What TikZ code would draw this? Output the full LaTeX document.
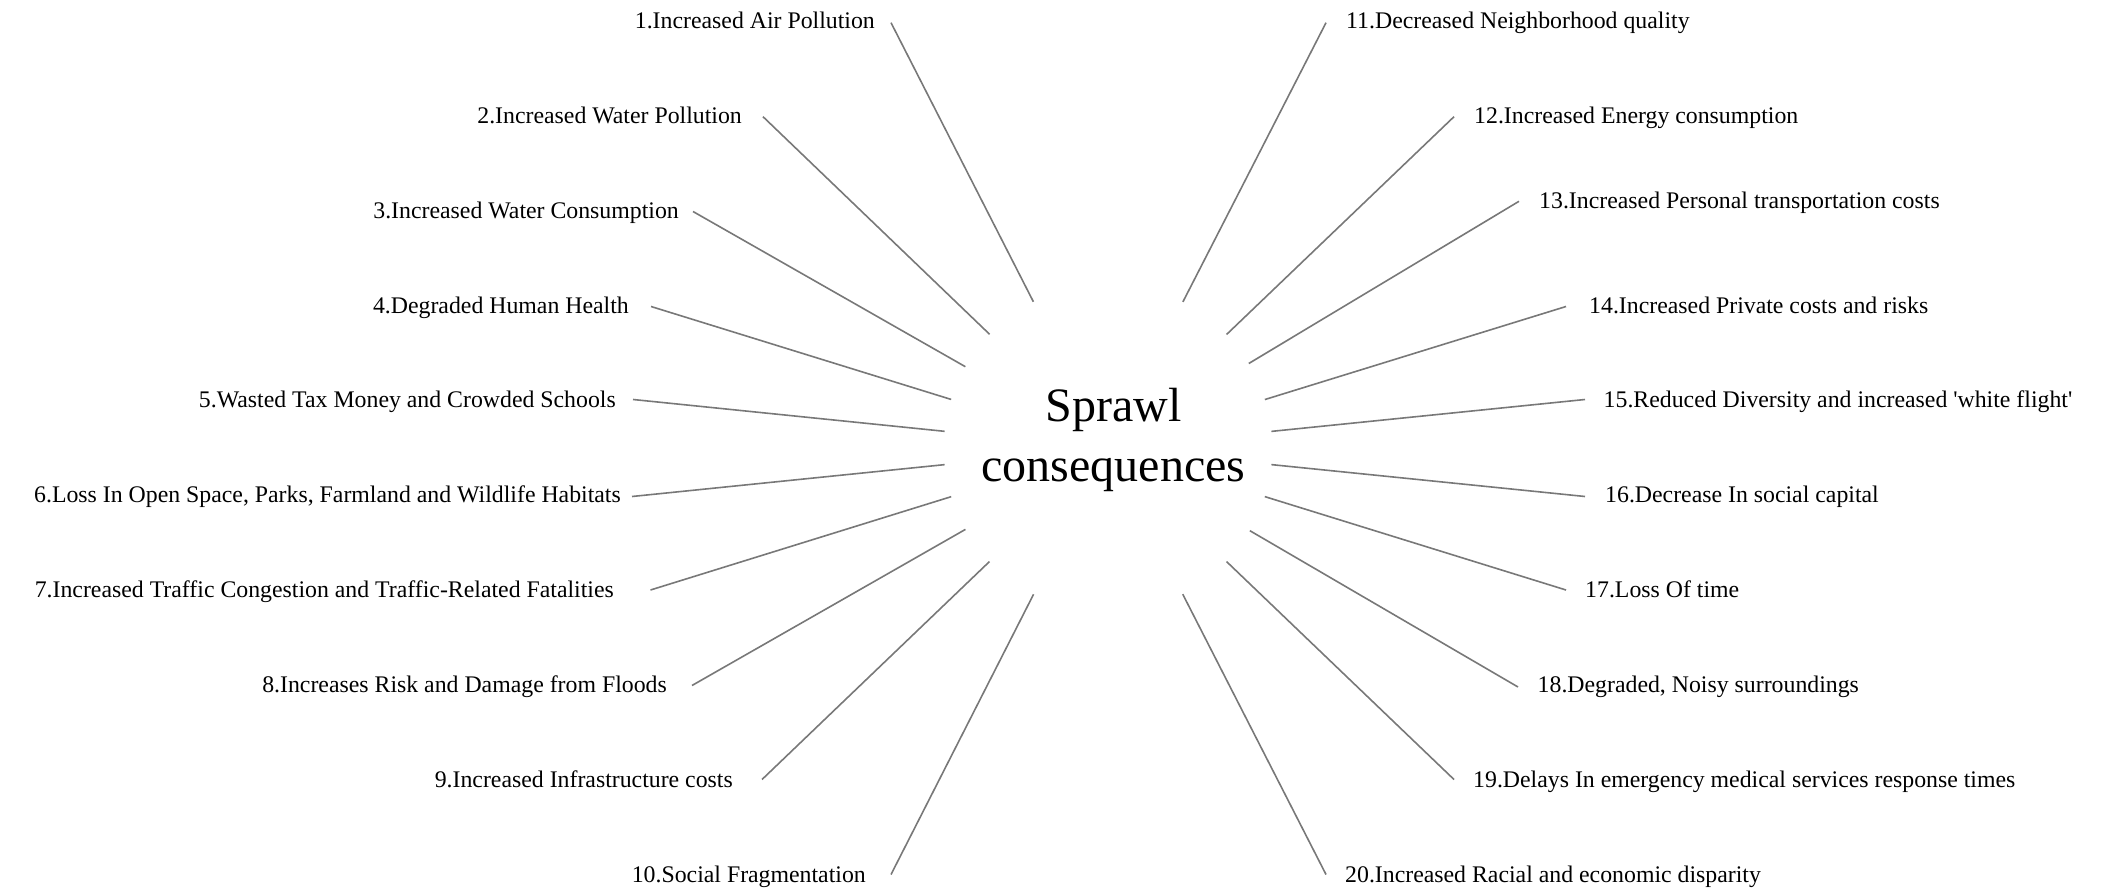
\documentclass[tikz,border=0pt]{standalone}
\usepackage{fontspec}
\setmainfont{Liberation Serif}
\definecolor{linegray}{RGB}{120,120,120}
\begin{document}
\begin{tikzpicture}[x=1pt,y=-1pt,
  lab/.style={font=\fontsize{23.8}{28}\selectfont, inner sep=0pt, text=black},
  conn/.style={draw=linegray, line width=1.6pt}]
\useasboundingbox (0,0) rectangle (2108,890);
\node[circle, minimum size=328pt, inner sep=0pt, draw=none] (c) at (1108,448) {};
\node[font=\fontsize{48}{60}\selectfont, align=center, inner sep=0pt] (title) at (1113.5,440) {Sprawl\\consequences};
% left labels
\node[lab, anchor=base east] (l1) at (875,28.5) {1.Increased Air Pollution};
\node[lab, anchor=base east] (l2) at (742,123.4) {2.Increased Water Pollution};
\node[lab, anchor=base east] (l3) at (679,218.2) {3.Increased Water Consumption};
\node[lab, anchor=base east] (l4) at (629,313.1) {4.Degraded Human Health};
\node[lab, anchor=base east] (l5) at (616,407.9) {5.Wasted Tax Money and Crowded Schools};
\node[lab, anchor=base east] (l6) at (621,502.8) {6.Loss In Open Space, Parks, Farmland and Wildlife Habitats};
\node[lab, anchor=base east] (l7) at (614,597.6) {7.Increased Traffic Congestion and Traffic-Related Fatalities};
\node[lab, anchor=base east] (l8) at (667,692.5) {8.Increases Risk and Damage from Floods};
\node[lab, anchor=base east] (l9) at (733,787.3) {9.Increased Infrastructure costs};
\node[lab, anchor=base east] (l10) at (866,882.1) {10.Social Fragmentation};
% right labels
\node[lab, anchor=base west] (r11) at (1346,28.5) {11.Decreased Neighborhood quality};
\node[lab, anchor=base west] (r12) at (1474,123.4) {12.Increased Energy consumption};
\node[lab, anchor=base west] (r13) at (1539,208.5) {13.Increased Personal transportation costs};
\node[lab, anchor=base west] (r14) at (1589,313.1) {14.Increased Private costs and risks};
\node[lab, anchor=base west] (r15) at (1603.5,407.9) {15.Reduced Diversity and increased \textquotesingle white flight\textquotesingle};
\node[lab, anchor=base west] (r16) at (1605,502.8) {16.Decrease In social capital};
\node[lab, anchor=base west] (r17) at (1585,597.6) {17.Loss Of time};
\node[lab, anchor=base west] (r18) at (1537.5,692.5) {18.Degraded, Noisy surroundings};
\node[lab, anchor=base west] (r19) at (1473,787.3) {19.Delays In emergency medical services response times};
\node[lab, anchor=base west] (r20) at (1345,882.1) {20.Increased Racial and economic disparity};
% connector ends
\coordinate (p1) at (891,22.7);
\coordinate (p2) at (763,116.7);
\coordinate (p3) at (693,211.5);
\coordinate (p4) at (651,306.5);
\coordinate (p5) at (633,399.5);
\coordinate (p6) at (632,496.5);
\coordinate (p7) at (650.5,590);
\coordinate (p8) at (692,685.5);
\coordinate (p9) at (762,779.5);
\coordinate (p10) at (891,874.5);
\coordinate (p11) at (1326,22.7);
\coordinate (p12) at (1454,116.7);
\coordinate (p13) at (1519,201.3);
\coordinate (p14) at (1566,306.5);
\coordinate (p15) at (1585,399.5);
\coordinate (p16) at (1585,496.5);
\coordinate (p17) at (1566,590);
\coordinate (p18) at (1518,687);
\coordinate (p19) at (1454,779.5);
\coordinate (p20) at (1326,874.5);
\foreach \i in {1,...,20} {\draw[conn] (c) -- (p\i);}
\end{tikzpicture}
\end{document}
